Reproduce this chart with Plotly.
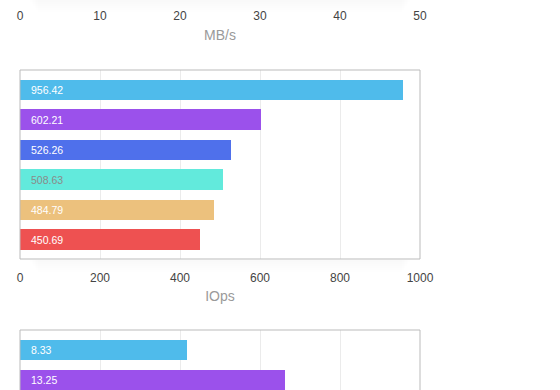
import plotly.graph_objects as go

# ---- data ----
iops_labels = ["956.42", "602.21", "526.26", "508.63", "484.79", "450.69"]
iops_values = [956.42, 602.21, 526.26, 508.63, 484.79, 450.69]
bar_colors = ["#4FBBEB", "#9B51EB", "#4F70EB", "#62EADC", "#ECC17D", "#EE5151"]
label_colors = ["#ffffff", "#ffffff", "#ffffff", "#8a8a8a", "#ffffff", "#ffffff"]

lat_labels = ["8.33", "13.25"]
lat_values = [8.33, 13.25]

mbs_ticks = [0, 10, 20, 30, 40, 50]
iops_ticks = [0, 200, 400, 600, 800, 1000]
lat_ticks = [0, 4, 8, 12, 16, 20]

W, H = 560, 390
FONT = "Liberation Sans"

def py(p):  # pixel from top -> paper fraction
    return (H - p) / H

fig = go.Figure()

cats_i = list(range(len(iops_values)))
fig.add_trace(go.Bar(
    x=iops_values, y=cats_i, orientation="h", width=0.667,
    marker=dict(color=bar_colors, line=dict(width=0)),
    xaxis="x", yaxis="y", hoverinfo="skip", showlegend=False))

cats_l = list(range(len(lat_values)))
fig.add_trace(go.Bar(
    x=lat_values, y=cats_l, orientation="h", width=0.667,
    marker=dict(color=bar_colors[:len(lat_values)], line=dict(width=0)),
    xaxis="x2", yaxis="y2", hoverinfo="skip", showlegend=False))

# empty trace for top (MB/s) axis
fig.add_trace(go.Bar(x=[], y=[], orientation="h", xaxis="x3", yaxis="y3",
                     showlegend=False))

annotations = []
for i, (t, c) in enumerate(zip(iops_labels, label_colors)):
    annotations.append(dict(x=0, y=i, xref="x", yref="y", text=t, showarrow=False,
                            xanchor="left", xshift=9,
                            font=dict(family=FONT, size=10.5, color=c)))
for i, t in enumerate(lat_labels):
    annotations.append(dict(x=0, y=i, xref="x2", yref="y2", text=t, showarrow=False,
                            xanchor="left", xshift=9,
                            font=dict(family=FONT, size=10.5, color=label_colors[i])))

axis_common = dict(showgrid=True, gridcolor="#ebebeb", gridwidth=1, zeroline=False,
                   ticks="outside", ticklen=8, tickcolor="rgba(0,0,0,0)",
                   tickfont=dict(family=FONT, size=12, color="#444444"),
                   ticklabeloverflow="allow", showline=False)

shapes = []
# soft shadow below middle frame and at the top
def shadow(y0px, x0=0.02, x1=0.98):
    for k in range(1, 7):
        shapes.append(dict(type="rect", xref="paper", yref="paper",
                           x0=x0 + 0.004 * k, x1=x1 - 0.004 * k,
                           y0=py(y0px + 2 * k), y1=py(y0px),
                           fillcolor="rgba(0,0,0,0.005)", line=dict(width=0),
                           layer="below"))
shadow(260)
shadow(0)

# frames
shapes.append(dict(type="rect", xref="paper", yref="paper", x0=0, x1=1,
                   y0=py(259), y1=py(70), line=dict(color="#bbbbbb", width=1),
                   fillcolor="rgba(0,0,0,0)", layer="above"))
for xs in [(0, 0, py(330), 0), (1, 1, py(330), 0)]:
    shapes.append(dict(type="line", xref="paper", yref="paper", x0=xs[0], x1=xs[1],
                       y0=xs[2], y1=xs[3], line=dict(color="#bbbbbb", width=1),
                       layer="above"))
shapes.append(dict(type="line", xref="paper", yref="paper", x0=0, x1=1,
                   y0=py(330), y1=py(330), line=dict(color="#bbbbbb", width=1),
                   layer="above"))

fig.update_layout(
    width=W, height=H,
    margin=dict(l=20, r=140, t=0, b=0, pad=0),
    paper_bgcolor="white", plot_bgcolor="white",
    bargap=0,
    xaxis=dict(domain=[0, 1], anchor="y", range=[0, 1000], tickvals=iops_ticks,
               title=dict(text="IOps", font=dict(family=FONT, size=14, color="#9a9a9a"),
                          standoff=6),
               **axis_common),
    yaxis=dict(domain=[py(259), py(70)], anchor="x", range=[5.65, -0.65],
               showticklabels=False, showgrid=False, zeroline=False, ticks=""),
    xaxis2=dict(domain=[0, 1], anchor="y2", range=[0, 20], tickvals=lat_ticks,
                showticklabels=False, showgrid=True, gridcolor="#ebebeb",
                zeroline=False, ticks="", showline=False),
    yaxis2=dict(domain=[0, py(330)], anchor="x2", range=[1.333, -0.667],
                showticklabels=False, showgrid=False, zeroline=False, ticks=""),
    xaxis3=dict(domain=[0, 1], anchor="y3", range=[0, 50], tickvals=mbs_ticks,
                title=dict(text="MB/s", font=dict(family=FONT, size=14, color="#9a9a9a"),
                           standoff=8),
                **{**axis_common, "showgrid": False, "ticklen": 3}),
    yaxis3=dict(domain=[0.997, 1], anchor="x3", range=[0, 1],
                showticklabels=False, showgrid=False, zeroline=False, ticks=""),
    annotations=annotations,
    shapes=shapes,
)

fig.write_html("out.html",
               config={"displayModeBar": False, "staticPlot": True},
               post_script="document.body.style.margin='0';document.body.style.overflow='hidden';")
